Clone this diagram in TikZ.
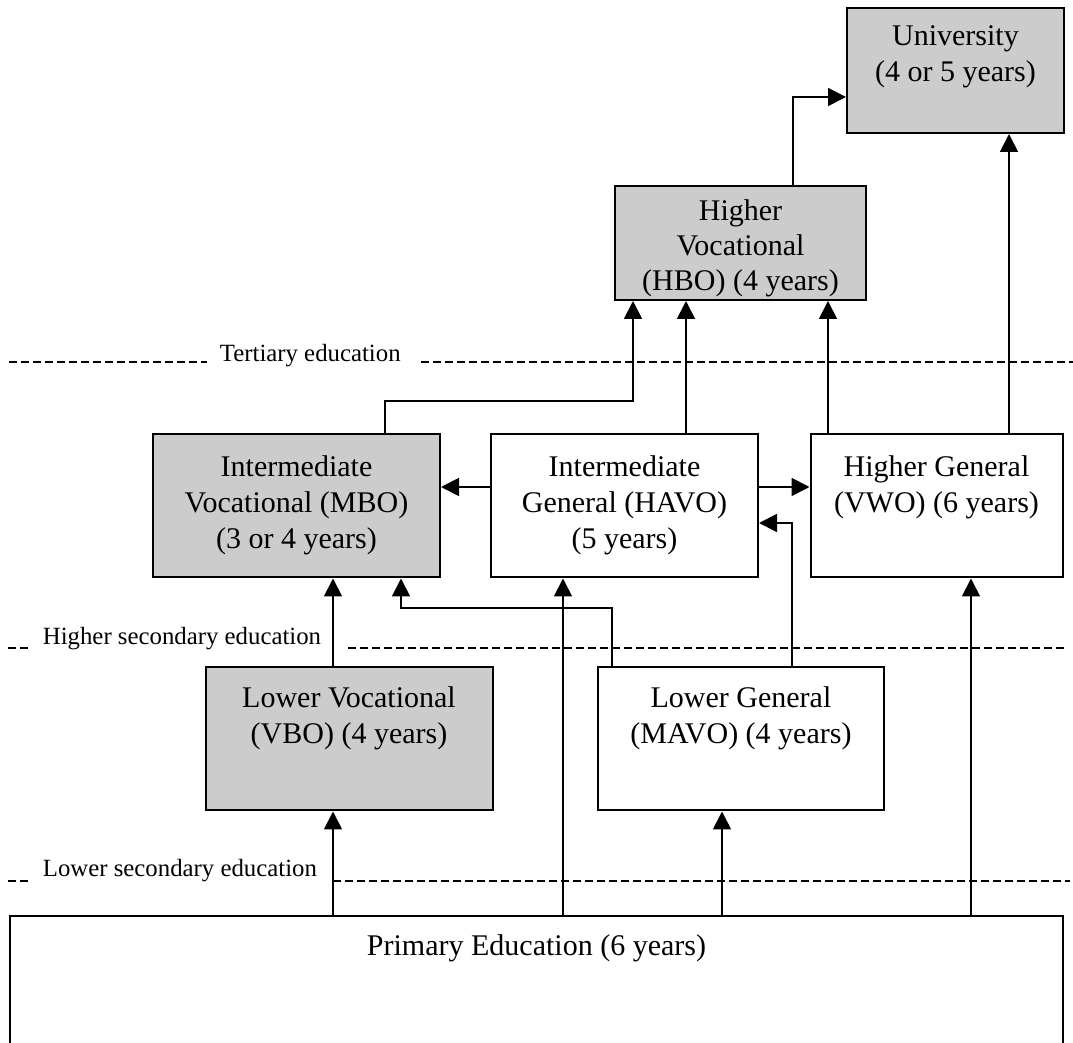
\documentclass[tikz,border=0pt]{standalone}
\usepackage{fontspec}
\setmainfont{Liberation Serif}
\usetikzlibrary{arrows.meta}
\usetikzlibrary{positioning}

\begin{document}
\begin{tikzpicture}[x=1pt,y=-1pt,->,>={Triangle[length=9pt,width=9pt]},line width=0.9pt]
\tikzstyle{school}=[rectangle,
  draw=black,fill=white,line width=1pt,
  minimum height=71.5pt
]

\tikzstyle{shadedschool}=[school,fill=black!20]

\tikzstyle{schooltext}=[anchor=north,align=center,
  inner sep=0pt,yshift=-9.5pt,
  font=\fontsize{15}{18}\selectfont
]

\tikzstyle{stage}=[anchor=base west,inner sep=0pt,
  font=\fontsize{12.4}{14}\selectfont
]

\tikzstyle{divider}=[-,dash pattern=on 4pt off 2pt,line width=0.8pt]

\useasboundingbox (0,0) rectangle (536.5,521.5);

% boxes
\node[shadedschool,minimum width=108.5pt,minimum height=62.5pt,
  label={[schooltext,yshift=0.5pt]north:{University\\(4 or 5 years)}}] (uni) at (477.75,35.25) {};
\node[shadedschool,minimum width=125.5pt,minimum height=57pt,
  label={[schooltext,yshift=2.5pt,font=\fontsize{15}{17.5}\selectfont]north:{Higher\\Vocational\\(HBO) (4 years)}}] (hbo) at (370.25,121.5) {};
\node[shadedschool,minimum width=143.5pt,
  label={[schooltext,yshift=-1pt]north:{Intermediate\\Vocational (MBO)\\(3 or 4 years)}}] (mbo) at (148.25,253) {};
\node[school,minimum width=133.5pt,
  label={[schooltext,yshift=-1pt]north:{Intermediate\\General (HAVO)\\(5 years)}}] (havo) at (312.25,253) {};
\node[school,minimum width=126pt,
  label={[schooltext,yshift=-1pt]north:{Higher General\\(VWO) (6 years)}}] (vwo) at (468.25,253) {};
\node[shadedschool,minimum width=143.5pt,
  label={[schooltext]north:{Lower Vocational\\(VBO) (4 years)}}] (vbo) at (174.5,369.5) {};
\node[school,minimum width=143pt,
  label={[schooltext]north:{Lower General\\(MAVO) (4 years)}}] (mavo) at (370.5,369.5) {};
\node[school,minimum width=526.5pt,minimum height=100pt,
  label={[schooltext]north:{Primary Education (6 years)}}] (prim) at (268.25,508) {};

% stages
\node[stage] (tert) at (109.5,181) {Tertiary education};
\node[stage] (hsec) at (21,322.5) {Higher secondary education};
\node[stage] (lsec) at (21,438.5) {Lower secondary education};

\draw[divider] (4.5,181) -- (103.5,181);
\draw[divider] (210.5,181) -- (536.5,181);
\draw[divider] (4,324) -- (14,324);
\draw[divider] (174,324) -- (532.5,324);
\draw[divider] (4,440.5) -- (14,440.5);
\draw[divider] (166.5,440.5) -- (535,440.5);

% routes
\draw (hbo.north -| 396.5,0) |- (uni.west |- 0,48.5);
\draw (vwo.north -| 504.5,0) -- (uni.south -| 504.5,0);
\draw (mbo.north -| 192.5,0) -- (192.5,200.5) -| (hbo.south -| 316.5,0);
\draw (havo.north -| 343,0) -- (hbo.south -| 343,0);
\draw (vwo.north -| 414,0) -- (hbo.south -| 414,0);
\draw (havo.west |- 0,243.5) -- (mbo.east |- 0,243.5);
\draw (havo.east |- 0,243.5) -- (vwo.west |- 0,243.5);
\draw (mavo.north -| 396,0) |- (havo.east |- 0,261.5);
\draw (mavo.north -| 306,0) |- (200.5,304) -- (mbo.south -| 200.5,0);
\draw (vbo.north -| 166.5,0) -- (mbo.south -| 166.5,0);
\draw (prim.north -| 166.5,0) -- (vbo.south -| 166.5,0);
\draw (prim.north -| 281.5,0) -- (havo.south -| 281.5,0);
\draw (prim.north -| 361,0) -- (mavo.south -| 361,0);
\draw (prim.north -| 485.5,0) -- (vwo.south -| 485.5,0);
\end{tikzpicture}
\end{document}
